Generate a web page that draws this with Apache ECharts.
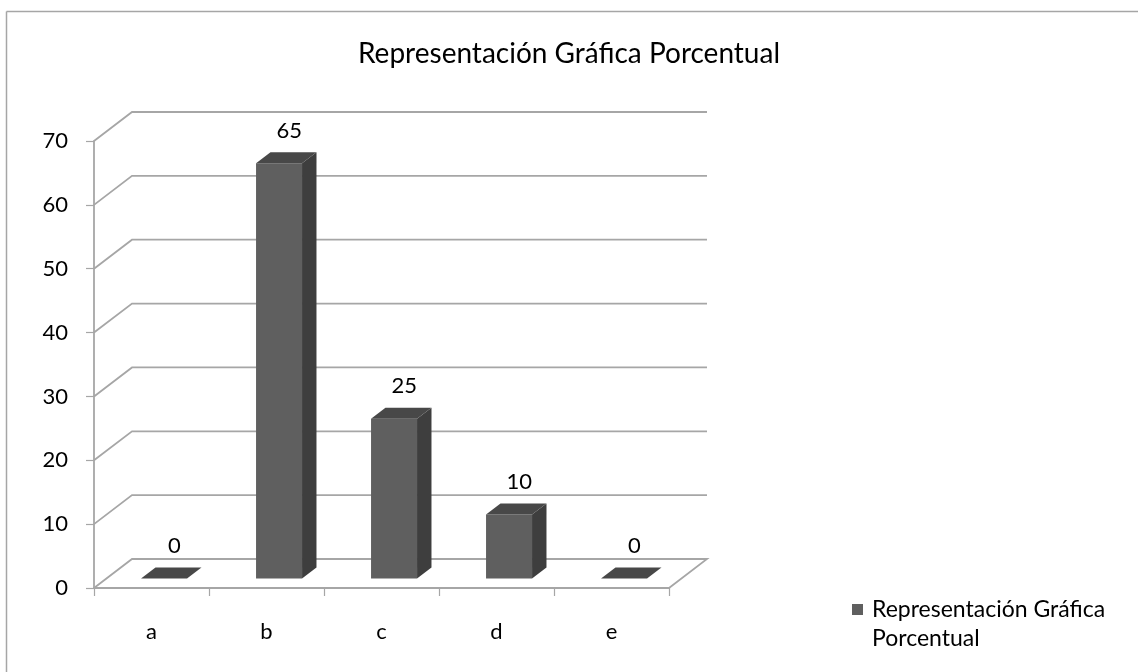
<!DOCTYPE html>
<html>
<head>
<meta charset="utf-8">
<script src="https://cdn.jsdelivr.net/npm/echarts@6/dist/echarts.min.js"></script>
<style>
  html, body { margin: 0; padding: 0; background: #fff; }
  #main { width: 1138px; height: 672px; }
</style>
</head>
<body>
<div id="main"></div>
<script>
const categories = ['a', 'b', 'c', 'd', 'e']
const values = [0, 65, 25, 10, 0]
const yTicks = [0, 10, 20, 30, 40, 50, 60, 70]
const seriesName = 'Representación Gráfica Porcentual'

// 3D depth of the back wall and of the bars (pixels)
const DX = 38
const DY = -29
const F0 = 0.33 // front face of bar, fraction of depth
const F1 = 0.71 // back face of bar
const GRID_C = '#a6a6a6'
const FONT = 'Lato'

const chart = echarts.init(document.getElementById('main'))

const wallItem = (params, api) => {
  const cs = params.coordSys
  const v = api.value(0)
  const y = api.coord([0, v])[1]
  const x0 = cs.x
  const x1 = cs.x + cs.width
  const pts = v === 0
    ? [[x0, y], [x0 + DX, y + DY], [x1 + DX, y + DY], [x1, y]]
    : [[x0, y], [x0 + DX, y + DY], [x1 + DX, y + DY]]
  return {
    type: 'polyline',
    shape: { points: pts },
    style: { stroke: GRID_C, lineWidth: 1.8, fill: null }
  }
}

const barItem = (params, api) => {
  const i = api.value(0)
  const v = api.value(1)
  const base = api.coord([i, 0])
  const top = api.coord([i, v])
  const band = api.size([1, 0])[0]
  const w = band * 0.4
  const xl = base[0] - w / 2 + DX * F0
  const xr = xl + w
  const yb = base[1] + DY * F0
  const yt = top[1] + DY * F0
  const ddx = DX * (F1 - F0)
  const ddy = DY * (F1 - F0)
  const children = []
  if (v > 0) {
    children.push({
      type: 'rect',
      shape: { x: xl, y: yt, width: w, height: yb - yt },
      style: { fill: '#5f5f5f' }
    })
    children.push({
      type: 'polygon',
      shape: { points: [[xr, yt], [xr + ddx, yt + ddy], [xr + ddx, yb + ddy], [xr, yb]] },
      style: { fill: '#3e3e3e' }
    })
  }
  children.push({
    type: 'polygon',
    shape: { points: [[xl, yt], [xl + ddx, yt + ddy], [xr + ddx, yt + ddy], [xr, yt]] },
    style: { fill: '#484848' }
  })
  children.push({
    type: 'text',
    style: {
      text: String(v),
      x: (xl + xr) / 2 + ddx / 2 + 3,
      y: yt + ddy / 2 - 27,
      align: 'center',
      verticalAlign: 'middle',
      fill: '#000',
      font: '22px ' + FONT
    }
  })
  return { type: 'group', children: children }
}

chart.setOption({
  animation: false,
  textStyle: { fontFamily: FONT },
  title: {
    text: seriesName,
    left: 564,
    top: 35,
    textAlign: 'center',
    textStyle: { fontFamily: FONT, fontSize: 28, fontWeight: 'normal', color: '#000' }
  },
  legend: {
    left: 847,
    top: 561,
    icon: 'rect',
    itemWidth: 11,
    itemHeight: 11,
    data: [seriesName],
    // empty first line so the marker sits beside the first text line
    formatter: () => '\nRepresentación Gráfica\nPorcentual',
    textStyle: { fontFamily: FONT, fontSize: 23, color: '#000', lineHeight: 29, padding: [0, 0, 0, 4] }
  },
  graphic: [
    { type: 'line', shape: { x1: 6.5, y1: 11.5, x2: 1138, y2: 11.5 }, style: { stroke: '#a6a6a6', lineWidth: 1.5 } },
    { type: 'line', shape: { x1: 6.5, y1: 11.5, x2: 6.5, y2: 672 }, style: { stroke: '#a6a6a6', lineWidth: 1.5 } }
  ],
  grid: { left: 94, right: 469, top: 141, bottom: 84 },
  xAxis: {
    type: 'category',
    data: categories,
    boundaryGap: true,
    axisLine: { lineStyle: { color: GRID_C, width: 1.8 } },
    axisTick: { show: true, length: 8, lineStyle: { color: GRID_C, width: 1.2 } },
    axisLabel: { margin: 33, fontSize: 22, color: '#000', fontFamily: FONT },
    splitLine: { show: false }
  },
  yAxis: {
    type: 'value',
    min: 0,
    max: 70,
    interval: 10,
    axisLine: { show: true, lineStyle: { color: GRID_C, width: 1.8 } },
    axisTick: { show: true, length: 8, lineStyle: { color: GRID_C, width: 1.2 } },
    axisLabel: { margin: 26, fontSize: 22, color: '#000', fontFamily: FONT },
    splitLine: { show: false }
  },
  series: [
    {
      type: 'custom',
      name: 'wall',
      silent: true,
      z: 1,
      renderItem: wallItem,
      data: yTicks.map((t) => [t])
    },
    {
      type: 'custom',
      name: seriesName,
      z: 3,
      itemStyle: { color: '#5f5f5f' },
      renderItem: barItem,
      encode: { x: 0, y: 1 },
      data: values.map((v, i) => [i, v])
    }
  ]
})
</script>
</body>
</html>
